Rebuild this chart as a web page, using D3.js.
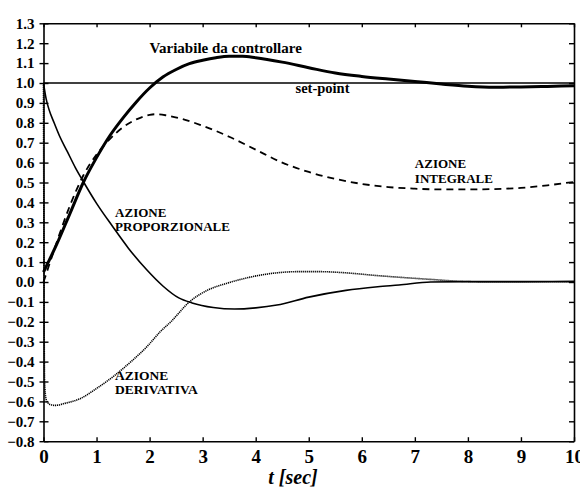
<!DOCTYPE html>
<html>
<head>
<meta charset="utf-8">
<script src="https://cdn.jsdelivr.net/npm/d3@7"></script>
<style>
  body { margin: 0; background: #fff; }
  svg text { font-family: "Liberation Serif", "Times New Roman", serif; font-weight: bold; fill: #000; }
</style>
</head>
<body>
<div id="chart"></div>
<script>
// t [sec], value
const variabile = [[0,0.05],[0.25,0.19],[0.5,0.345],[0.75,0.5],[1.0,0.625],[1.25,0.735],[1.5,0.825],[1.75,0.905],[2.0,0.975],[2.25,1.03],[2.5,1.068],[2.75,1.097],[3.0,1.114],[3.25,1.127],[3.5,1.134],[3.75,1.134],[4.0,1.127],[4.5,1.105],[5.0,1.077],[5.5,1.05],[6.0,1.033],[6.5,1.02],[7.0,1.008],[7.5,0.995],[8.0,0.984],[8.5,0.979],[9.0,0.98],[9.5,0.983],[10,0.986]];
const integrale = [[0,0.0],[0.1,0.08],[0.25,0.2],[0.5,0.385],[0.75,0.535],[1.0,0.64],[1.25,0.718],[1.5,0.778],[1.75,0.817],[2.0,0.84],[2.1,0.843],[2.3,0.838],[2.6,0.82],[2.95,0.79],[3.5,0.73],[4.0,0.665],[4.5,0.6],[5.0,0.553],[5.5,0.518],[6.0,0.493],[6.5,0.477],[7.0,0.469],[7.5,0.465],[8.0,0.465],[8.5,0.467],[9.0,0.473],[9.5,0.486],[10,0.503]];
const proporzionale = [[0,1.0],[0.05,0.92],[0.1,0.87],[0.2,0.8],[0.3,0.735],[0.45,0.655],[0.6,0.575],[0.75,0.505],[1.0,0.395],[1.3,0.28],[1.6,0.17],[1.95,0.06],[2.25,-0.02],[2.55,-0.08],[2.8,-0.105],[3.2,-0.128],[3.6,-0.136],[4.0,-0.13],[4.4,-0.116],[5.0,-0.076],[5.7,-0.042],[6.3,-0.024],[6.7,-0.015],[7.3,0.0],[8,0.002],[9,0.002],[10,0.003]];
const derivativa = [[0,1.0],[0.02,-0.5],[0.05,-0.59],[0.12,-0.615],[0.22,-0.62],[0.4,-0.61],[0.7,-0.585],[1.0,-0.535],[1.3,-0.478],[1.65,-0.4],[1.95,-0.325],[2.2,-0.25],[2.4,-0.2],[2.75,-0.1],[3.1,-0.04],[3.45,-0.007],[4.1,0.035],[4.8,0.052],[5.2,0.052],[5.65,0.047],[6.3,0.032],[6.7,0.024],[7.3,0.013],[7.9,0.003],[8.5,0.0],[9,0],[10,0.0]];
const setPoint = 1.0;

const xTicks = d3.range(0, 11, 1);
const yTicks = d3.range(-8, 14, 1).map(d => d / 10);

const labels = [
  { text: ["Variabile da controllare"], t: 2.0, v: 1.15, size: 15 },
  { text: ["set-point"], t: 4.75, v: 0.95, size: 14.5 },
  { text: ["AZIONE", "INTEGRALE"], t: 7.0, v: 0.571, size: 13 },
  { text: ["AZIONE", "PROPORZIONALE"], t: 1.35, v: 0.328, size: 13 },
  { text: ["AZIONE", "DERIVATIVA"], t: 1.35, v: -0.492, size: 13.5 },
];

const WIDTH = 580, HEIGHT = 488;
const LEFT = 43.5, RIGHT = 574, TOP = 23.3, BOTTOM = 441.2;

const svg = d3.select("#chart").append("svg")
  .attr("width", WIDTH).attr("height", HEIGHT);

const x = d3.scaleLinear().domain([0, 10]).range([LEFT, RIGHT]);
const y = d3.scaleLinear().domain([-0.8, 1.3]).range([BOTTOM, TOP]);

const line = d3.line()
  .x(d => x(d[0]))
  .y(d => y(d[1]))
  .curve(d3.curveMonotoneX);

// set-point
svg.append("line")
  .attr("x1", x(0)).attr("x2", x(10))
  .attr("y1", y(setPoint)).attr("y2", y(setPoint))
  .attr("stroke", "#000").attr("stroke-width", 1.6);

// curves
svg.append("path").datum(derivativa)
  .attr("d", line).attr("fill", "none")
  .attr("stroke", "#000").attr("stroke-width", 1.6)
  .attr("stroke-dasharray", "1.2,0.8");

svg.append("path").datum(proporzionale)
  .attr("d", line).attr("fill", "none")
  .attr("stroke", "#000").attr("stroke-width", 1.6);

svg.append("path").datum(integrale)
  .attr("d", line).attr("fill", "none")
  .attr("stroke", "#000").attr("stroke-width", 1.8)
  .attr("stroke-dasharray", "7,5");

svg.append("path").datum(variabile)
  .attr("d", line).attr("fill", "none")
  .attr("stroke", "#000").attr("stroke-width", 3);

// axes
const axisG = svg.append("g");
axisG.append("g")
  .attr("transform", `translate(0,${BOTTOM})`)
  .call(d3.axisBottom(x).tickValues(xTicks).tickSizeInner(-4).tickSizeOuter(0).tickPadding(8))
  .call(g => g.selectAll("text").attr("font-size", 19).attr("dy", "0.71em"));
axisG.append("g")
  .attr("transform", `translate(0,${TOP})`)
  .call(d3.axisTop(x).tickValues(xTicks).tickSizeInner(-4).tickSizeOuter(0).tickFormat(""));
axisG.append("g")
  .attr("transform", `translate(${LEFT},0)`)
  .call(d3.axisLeft(y).tickValues(yTicks).tickSizeInner(4).tickSizeOuter(0).tickPadding(5).tickFormat(d3.format(".1f")))
  .call(g => g.selectAll("text").attr("font-size", 15))
  .call(g => g.selectAll(".tick line").attr("x2", 5).attr("x1", -4));
axisG.append("g")
  .attr("transform", `translate(${RIGHT},0)`)
  .call(d3.axisRight(y).tickValues(yTicks).tickSizeInner(-5).tickSizeOuter(0).tickFormat(""));

axisG.selectAll(".domain").attr("stroke", "#000").attr("stroke-width", 1.6);
axisG.selectAll(".tick line").attr("stroke", "#000").attr("stroke-width", 1.4);
axisG.selectAll("text").attr("font-family", "Liberation Serif").attr("font-weight", "bold");

// x label
svg.append("text")
  .attr("x", 293).attr("y", 484)
  .attr("text-anchor", "middle")
  .attr("font-size", 20)
  .attr("font-style", "italic")
  .text("t [sec]");

// annotations
labels.forEach(l => {
  const t = svg.append("text")
    .attr("x", x(l.t)).attr("y", y(l.v))
    .attr("font-size", l.size);
  l.text.forEach((s, i) => {
    t.append("tspan").attr("x", x(l.t)).attr("dy", i === 0 ? 0 : 14.5).text(s);
  });
});
</script>
</body>
</html>
